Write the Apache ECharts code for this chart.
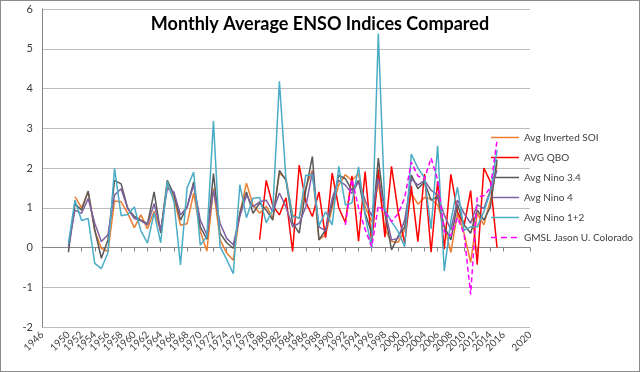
<!DOCTYPE html>
<html><head><meta charset="utf-8">
<script src="https://cdn.jsdelivr.net/npm/echarts@6/dist/echarts.min.js"></script>
<style>
html,body{margin:0;padding:0;background:#fff;}
#c{width:638px;height:370px;border:1px solid #8c8c8c;}
</style></head>
<body><div id="c"></div>
<script>
const xTicks = {min: 1946, max: 2020, step: 2};
const ensoYears = []; for (let y = 1950; y <= 2015; y++) ensoYears.push(y);
const qboYears = []; for (let y = 1979; y <= 2015; y++) qboYears.push(y);
const gmslYears = []; for (let y = 1992; y <= 2015; y++) gmslYears.push(y);

const invSOI = [null,1.28,1.0,1.4,0.42,-0.02,-0.1,1.17,1.15,0.86,0.5,0.82,0.47,0.91,0.42,1.58,1.24,0.56,0.6,1.37,0.41,-0.09,1.49,0.2,-0.14,-0.32,0.86,1.62,1.07,0.86,1.04,0.73,1.87,1.73,0.82,0.73,1.52,1.94,0.19,0.32,1.0,1.57,1.83,1.69,1.86,1.03,0.65,1.65,0.46,0.15,0.13,0.44,1.36,1.09,1.26,1.22,1.07,0.53,-0.12,0.86,0.36,-0.38,0.86,0.57,1.19,2.1];
const qbo = [0.2,1.69,1.05,0.82,1.25,-0.1,2.07,1.15,0.78,1.4,0.25,1.87,1.0,0.63,1.8,0.16,1.91,0.1,1.96,0.26,2.04,0.9,0.1,1.55,0.15,1.85,-0.12,1.67,-0.04,1.84,0.9,0.55,1.43,-0.43,2.0,1.65,0.0];
const nino34 = [-0.12,1.1,0.94,1.42,0.44,-0.27,0.19,1.69,1.6,0.98,0.78,0.69,0.6,1.4,0.36,1.69,1.33,0.69,1.02,1.65,0.52,0.21,1.86,0.36,0.12,-0.02,0.86,1.4,0.86,1.12,0.94,0.69,1.94,1.69,0.62,0.36,1.44,2.29,0.19,0.44,1.1,1.82,1.73,1.44,1.69,0.86,0.36,2.25,0.86,-0.06,0.28,0.52,1.82,1.48,1.65,1.19,1.27,0.52,0.19,1.09,0.57,0.36,0.94,0.69,1.02,2.21];
const nino4 = [0.02,0.94,0.86,1.23,0.61,0.15,0.32,1.32,1.48,0.98,0.73,0.67,0.57,1.1,0.44,1.48,1.4,0.82,1.02,1.57,0.69,0.32,1.44,0.61,0.23,0.07,0.78,1.32,1.02,1.15,1.19,0.9,1.37,1.02,0.52,0.61,1.02,1.9,0.52,0.42,1.23,1.69,1.57,1.36,1.65,1.19,0.78,1.73,0.94,0.19,0.23,0.69,1.73,1.57,1.69,1.44,1.32,0.82,0.44,1.19,0.86,0.61,1.08,0.98,1.44,1.94];
const nino12 = [0.1,1.19,0.68,0.73,-0.4,-0.53,-0.13,1.99,0.8,0.83,1.02,0.42,0.11,0.87,0.12,1.66,1.15,-0.44,1.5,1.9,0.06,0.28,3.18,0.02,-0.3,-0.66,1.58,0.75,1.24,1.26,0.62,0.95,4.18,1.7,0.78,0.74,1.82,1.82,0.55,0.9,0.57,2.04,1.07,1.12,2.03,0.8,-0.02,5.38,0.95,0.65,0.4,0.02,2.35,2.0,1.75,0.47,2.56,-0.59,0.67,1.52,0.43,0.52,0.52,0.9,1.4,2.45];
const gmsl = [0.57,1.72,1.0,0.45,0.02,1.05,0.9,0.65,0.85,1.25,2.15,1.8,1.72,2.25,1.7,0.4,0.3,0.75,0.35,-1.18,1.27,1.3,1.5,2.7];

const names = ['Avg Inverted SOI','AVG QBO','Avg Nino 3.4','Avg Nino 4','Avg Nino 1+2','GMSL Jason U. Colorado'];
const colors = ['#ED7D31','#FF0000','#595959','#7F60A0','#4BACC6','#FF00FF'];

function pairs(years, vals){ return years.map((y,i)=>[y, vals[i]]); }
const datasets = [pairs(ensoYears,invSOI), pairs(qboYears,qbo), pairs(ensoYears,nino34), pairs(ensoYears,nino4), pairs(ensoYears,nino12), pairs(gmslYears,gmsl)];

const solidIcon = 'path://M0,0L28,0L28,1.5L0,1.5Z';
const dashIcon = 'path://M0,0L6,0L6,1.5L0,1.5Z M10,0L16,0L16,1.5L10,1.5Z M20,0L26,0L26,1.5L20,1.5Z M27.9,0L28,0L28,1.5L27.9,1.5Z';

const chart = echarts.init(document.getElementById('c'), null, {renderer:'canvas'});
const font = 'Lato, "Open Sans", sans-serif';
chart.setOption({
  animation:false,
  backgroundColor:'#fff',
  title:{text:'Monthly Average ENSO Indices Compared', left:'center', top:9,
    textStyle:{fontFamily:font, fontWeight:'bold', fontSize:18, color:'#000'}},
  legend:{show:true, orient:'vertical', left:485, top:125, itemWidth:28, itemHeight:1.5, itemGap:7,
    data: names.map((n,i)=>({name:n, icon: i===5 ? dashIcon : solidIcon})),
    textStyle:{fontFamily:font, fontSize:10, color:'#404040', lineHeight:13}},
  grid:{left:41, right:109, top:8, bottom:44, containLabel:false},
  xAxis:{type:'value', min:xTicks.min, max:xTicks.max, interval:xTicks.step,
    axisLine:{lineStyle:{color:'#868686'}}, axisTick:{show:true, length:4, lineStyle:{color:'#868686'}},
    splitLine:{show:false},
    axisLabel:{rotate:45, fontFamily:font, fontSize:10, color:'#404040', margin:6, showMinLabel:true, showMaxLabel:true, hideOverlap:false, formatter:v=>String(v)}},
  yAxis:{type:'value', min:-2, max:6, interval:1,
    axisLine:{show:true, lineStyle:{color:'#868686'}}, axisTick:{show:false},
    splitLine:{lineStyle:{color:'#bdbdbd', width:1}},
    axisLabel:{fontFamily:font, fontSize:11, color:'#404040', margin:9}},
  series: names.map((n,i)=>({
    name:n, type:'line', data:datasets[i], showSymbol:false, symbol:'none', connectNulls:false,
    lineStyle:{color:colors[i], width:1.5, type: i===5 ? [5,3] : 'solid'},
    itemStyle:{color:colors[i]}, z: 2+i
  }))
});
</script></body></html>
